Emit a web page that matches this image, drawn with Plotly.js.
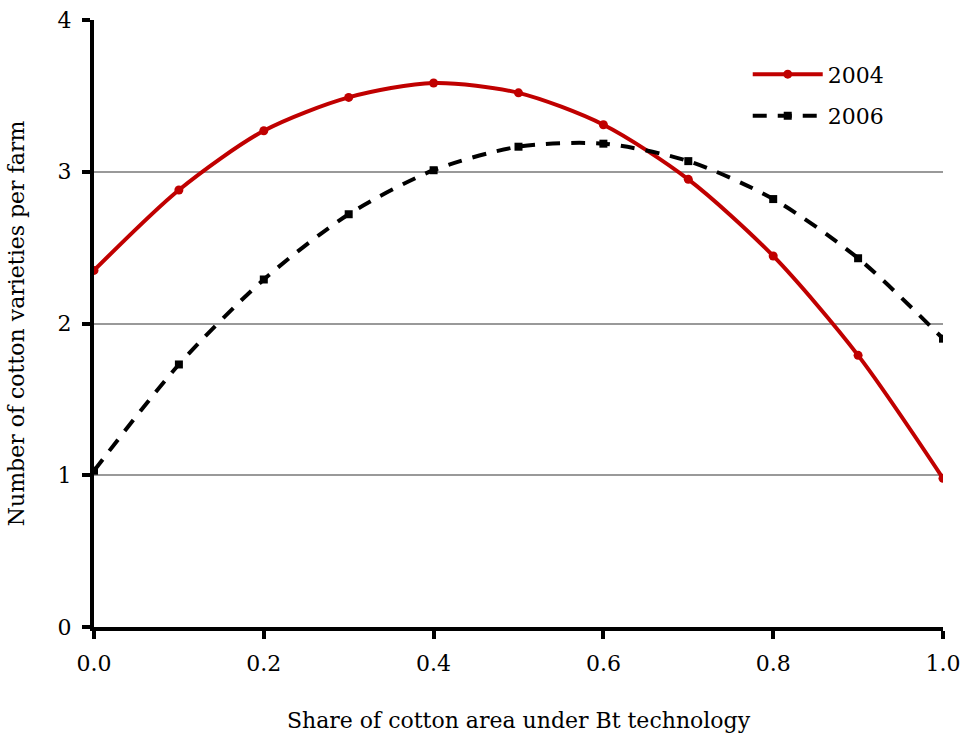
<!DOCTYPE html>
<html><head><meta charset="utf-8">
<script src="https://cdn.plot.ly/plotly-3.0.1.min.js"></script>
<style>body{margin:0;background:#fff}#c{width:966px;height:740px}</style>
</head><body><div id="c"></div>
<script>
const xShare = [0.0,0.1,0.2,0.3,0.4,0.5,0.6,0.7,0.8,0.9,1.0];
const y2004 = [2.35,2.88,3.27,3.49,3.585,3.52,3.31,2.95,2.445,1.79,0.98];
const y2006 = [1.03,1.73,2.29,2.72,3.01,3.165,3.185,3.07,2.82,2.43,1.90];
const xTicks = [0,0.2,0.4,0.6,0.8,1.0];
const xTickText = ['0.0','0.2','0.4','0.6','0.8','1.0'];
const yTicks = [0,1,2,3,4];
const F = 'DejaVu Serif, Liberation Serif, serif';
const data = [
 {x:xShare,y:y2004,name:'2004',legendgroup:'a',mode:'lines+markers',line:{color:'#c00000',width:4,shape:'spline',smoothing:0.8},marker:{symbol:'circle',size:9,color:'#c00000'}},
 {x:xShare,y:y2006,name:'2006',legendgroup:'b',mode:'lines+markers',line:{color:'#000000',width:4,dash:'14px,11px',shape:'spline',smoothing:0.8},marker:{symbol:'square',size:8,color:'#000000'}}
];
const layout = {
 width:966,height:740,
 margin:{l:94,r:23,t:20,b:113},
 paper_bgcolor:'#fff',plot_bgcolor:'#fff',
 font:{family:F,size:22,color:'#000'},
 showlegend:true,
 legend:{x:0.77,y:0.945,xanchor:'left',yanchor:'top',bgcolor:'rgba(0,0,0,0)',font:{size:22},traceorder:'grouped',tracegroupgap:10,itemwidth:70},
 xaxis:{range:[0,1],tickvals:xTicks,ticktext:xTickText,showline:true,linecolor:'#000',linewidth:4,ticks:'outside',ticklen:8,tickwidth:4,tickcolor:'#000',showgrid:false,zeroline:false,tickfont:{size:22},ticklabelstandoff:6,
   title:{text:'Share of cotton area under Bt technology',font:{size:22},standoff:38}},
 yaxis:{range:[0,4],tickvals:yTicks,showline:true,linecolor:'#000',linewidth:4,ticks:'outside',ticklen:8,tickwidth:4,tickcolor:'#000',showgrid:true,gridcolor:'#999',gridwidth:1.5,zeroline:false,tickfont:{size:22},ticklabelstandoff:6,
   title:{text:'Number of cotton varieties per farm',font:{size:22},standoff:28}}
};
Plotly.newPlot('c',data,layout,{displayModeBar:false});
</script></body></html>
